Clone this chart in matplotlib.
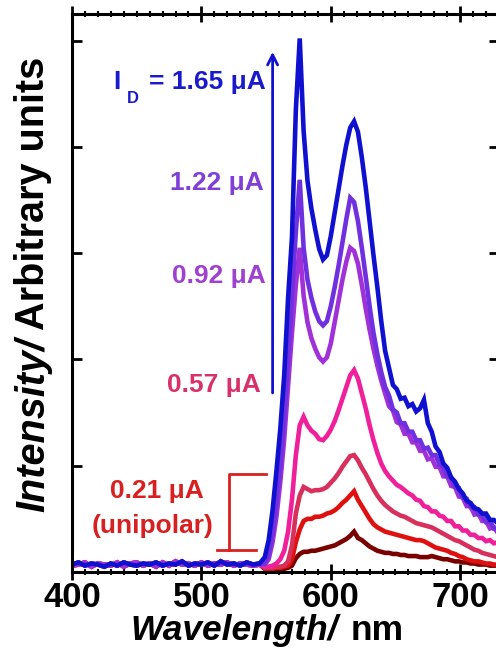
import numpy as np
import matplotlib.pyplot as plt
from matplotlib.ticker import MultipleLocator

plt.rcParams['font.family'] = ['Liberation Sans', 'DejaVu Sans']

W, H = 496, 650

# baseline region, 400-545 nm every 5 nm
wl_base = np.arange(400, 546, 5)
base_noise_a = [0.07, 0.09, 0.06, 0.08, 0.07, 0.05, 0.08, 0.06, 0.09, 0.07,
                0.06, 0.08, 0.07, 0.09, 0.06, 0.08, 0.07, 0.10, 0.06, 0.08,
                0.07, 0.09, 0.06, 0.10, 0.07, 0.08, 0.06, 0.09, 0.07, 0.08]
base_noise_b = [0.06, 0.07, 0.09, 0.05, 0.08, 0.07, 0.06, 0.09, 0.05, 0.08,
                0.09, 0.06, 0.08, 0.05, 0.09, 0.06, 0.10, 0.07, 0.08, 0.06,
                0.09, 0.06, 0.08, 0.07, 0.09, 0.06, 0.08, 0.07, 0.06, 0.07]

# emission region, 549-729 nm every 3 nm
wl_peak = np.arange(549, 730, 3)

blue_165 = [0.14, 0.30, 0.58, 0.95, 1.35, 1.85, 2.58, 3.15, 4.35, 5.02,
            4.15, 3.68, 3.42, 3.22, 3.04, 2.94, 2.98, 3.16, 3.38, 3.60,
            3.82, 4.02, 4.18, 4.24, 4.14, 3.90, 3.62, 3.30, 2.98, 2.68,
            2.36, 2.08, 1.92, 1.76, 1.72, 1.63, 1.64, 1.56, 1.58, 1.51,
            1.54, 1.62, 1.40, 1.32, 1.18, 1.13, 1.02, 0.98, 0.89, 0.85,
            0.78, 0.74, 0.67, 0.65, 0.60, 0.59, 0.55, 0.55, 0.49, 0.49, 0.46]
violet_122 = [0.08, 0.16, 0.36, 0.65, 1.00, 1.45, 2.00, 2.60, 3.20, 3.69,
              3.05, 2.75, 2.58, 2.45, 2.36, 2.32, 2.36, 2.50, 2.68, 2.88,
              3.10, 3.32, 3.52, 3.48, 3.30, 3.05, 2.78, 2.50, 2.25, 2.05,
              1.88, 1.74, 1.66, 1.53, 1.50, 1.40, 1.40, 1.32, 1.32, 1.24,
              1.24, 1.16, 1.17, 1.10, 1.10, 1.01, 0.99, 0.90, 0.89, 0.80,
              0.79, 0.70, 0.69, 0.61, 0.61, 0.54, 0.54, 0.47, 0.48, 0.41, 0.42]
purple_092 = [0.07, 0.12, 0.28, 0.52, 0.85, 1.25, 1.75, 2.25, 2.70, 3.05,
              2.60, 2.35, 2.20, 2.10, 2.02, 1.98, 2.02, 2.15, 2.35, 2.55,
              2.75, 2.92, 3.05, 3.02, 2.90, 2.70, 2.48, 2.28, 2.10, 1.94,
              1.80, 1.68, 1.56, 1.52, 1.41, 1.39, 1.30, 1.30, 1.22, 1.22,
              1.14, 1.14, 1.06, 1.07, 0.99, 0.99, 0.90, 0.90, 0.81, 0.80,
              0.71, 0.70, 0.62, 0.62, 0.54, 0.55, 0.48, 0.48, 0.41, 0.42, 0.37]
pink_057 = [0.05, 0.05, 0.06, 0.08, 0.12, 0.20, 0.38, 0.68, 1.10, 1.38,
            1.46, 1.38, 1.33, 1.30, 1.25, 1.24, 1.28, 1.34, 1.42, 1.52,
            1.63, 1.74, 1.85, 1.90, 1.82, 1.68, 1.54, 1.38, 1.24, 1.12,
            1.02, 0.95, 0.90, 0.86, 0.82, 0.80, 0.77, 0.74, 0.72, 0.68,
            0.67, 0.62, 0.61, 0.57, 0.57, 0.53, 0.52, 0.48, 0.48, 0.43,
            0.43, 0.39, 0.39, 0.35, 0.35, 0.32, 0.32, 0.29, 0.30, 0.27, 0.28]
crimson_mid = [0.04, 0.04, 0.04, 0.05, 0.05, 0.06, 0.10, 0.25, 0.55, 0.72,
               0.80, 0.78, 0.76, 0.77, 0.77, 0.78, 0.80, 0.84, 0.88, 0.93,
               0.99, 1.04, 1.09, 1.10, 1.05, 0.98, 0.92, 0.85, 0.78, 0.72,
               0.67, 0.63, 0.60, 0.57, 0.55, 0.53, 0.52, 0.50, 0.48, 0.46,
               0.45, 0.44, 0.43, 0.42, 0.40, 0.38, 0.36, 0.34, 0.32, 0.30,
               0.29, 0.27, 0.25, 0.23, 0.21, 0.20, 0.18, 0.17, 0.16, 0.15, 0.14]
red_low = [0.03, 0.03, 0.03, 0.04, 0.04, 0.05, 0.06, 0.12, 0.28, 0.40,
           0.48, 0.50, 0.50, 0.52, 0.52, 0.53, 0.55, 0.56, 0.58, 0.61,
           0.65, 0.68, 0.72, 0.76, 0.68, 0.62, 0.56, 0.50, 0.45, 0.42,
           0.40, 0.38, 0.37, 0.36, 0.35, 0.34, 0.33, 0.32, 0.31, 0.30,
           0.30, 0.29, 0.27, 0.25, 0.23, 0.22, 0.21, 0.20, 0.18, 0.17,
           0.15, 0.14, 0.12, 0.11, 0.10, 0.10, 0.09, 0.08, 0.08, 0.07, 0.07]
darkred_021 = [0.03, 0.03, 0.03, 0.03, 0.03, 0.03, 0.04, 0.06, 0.13, 0.17,
               0.19, 0.19, 0.20, 0.20, 0.21, 0.22, 0.23, 0.24, 0.25, 0.27,
               0.29, 0.31, 0.34, 0.38, 0.32, 0.30, 0.27, 0.24, 0.22, 0.20,
               0.19, 0.18, 0.18, 0.17, 0.17, 0.16, 0.16, 0.15, 0.15, 0.15,
               0.14, 0.14, 0.14, 0.15, 0.14, 0.13, 0.12, 0.12, 0.11, 0.10,
               0.10, 0.09, 0.09, 0.08, 0.08, 0.07, 0.07, 0.07, 0.06, 0.06, 0.06]

series = [darkred_021, red_low, crimson_mid, pink_057, purple_092, violet_122, blue_165]
baselines = [base_noise_b, base_noise_a, base_noise_b, base_noise_b,
             base_noise_b, base_noise_a, base_noise_a]
colors = ['#7a0000', '#e01010', '#d8305c', '#f0209a', '#a030d8', '#7030e0', '#1010d0']

labels = ['0.21 \u03bcA', '0.57 \u03bcA', '0.92 \u03bcA', '1.22 \u03bcA', '= 1.65 \u03bcA']
label_colors = ['#d82020', '#d8306a', '#a040d0', '#8040d8', '#1a1acd']

fig = plt.figure(figsize=(W / 100, H / 100), dpi=100)
ax = fig.add_axes([72 / W, 1 - 572 / H, 427 / W, (572 - 14) / H])

wl = np.concatenate([wl_base, wl_peak])
for vals, base, c in zip(series, baselines, colors):
    ax.plot(wl, np.concatenate([base, vals]), color=c, lw=3.3,
            solid_joinstyle='miter')

ax.set_xlim(400, 730)
ax.set_ylim(0, 5.25)
ax.xaxis.set_major_locator(MultipleLocator(100))
ax.xaxis.set_minor_locator(MultipleLocator(10))
ax.yaxis.set_major_locator(MultipleLocator(1))
ax.tick_params(axis='x', which='major', direction='inout', length=12, width=2,
               top=True, bottom=True, labelsize=25, pad=0.5)
ax.tick_params(axis='x', which='minor', direction='inout', length=5, width=1.5,
               top=True, bottom=True)
ax.tick_params(axis='y', which='major', direction='in', length=7, width=2,
               left=True, right=True, labelleft=False)
for lab in ax.get_xticklabels():
    lab.set_fontweight('bold')
for sp in ax.spines.values():
    sp.set_linewidth(2.2)


def px(x):
    return 400 + (x - 72) / 1.29


def py(y):
    return (572 - y) / 106.25


# current labels
ax.text(px(113), py(89), 'I', color=label_colors[4], fontsize=19, weight='bold', va='baseline')
ax.text(px(127), py(103), 'D', color=label_colors[4], fontsize=12, weight='bold', va='baseline')
ax.text(px(265), py(89), labels[4], color=label_colors[4], fontsize=19, weight='bold',
        ha='right', va='baseline')
ax.text(px(263), py(190), labels[3], color=label_colors[3], fontsize=19, weight='bold',
        ha='right', va='baseline')
ax.text(px(265), py(283), labels[2], color=label_colors[2], fontsize=19, weight='bold',
        ha='right', va='baseline')
ax.text(px(260), py(392), labels[1], color=label_colors[1], fontsize=19, weight='bold',
        ha='right', va='baseline')
ax.text(px(203), py(498), labels[0], color=label_colors[0], fontsize=19, weight='bold',
        ha='right', va='baseline')
ax.text(px(152), py(533), '(unipolar)', color=label_colors[0], fontsize=19, weight='bold',
        ha='center', va='baseline')

# arrow
ax.annotate('', xy=(px(272), py(52)), xytext=(px(272), py(393)),
            arrowprops=dict(arrowstyle='->', color='#1010d0', lw=2,
                            shrinkA=0, shrinkB=0, mutation_scale=18))

# bracket for unipolar
ax.plot([px(265), px(229), px(229)], [py(474), py(474), py(550)], color='#d82020', lw=2)
ax.plot([px(217), px(255)], [py(550), py(550)], color='#d82020', lw=2)

# axis titles made of mixed italic / upright parts
fig.canvas.draw()
r = fig.canvas.get_renderer()
t1 = fig.text(33 / W, 1 - 512 / H, 'Intensity/', rotation=90, ha='center', va='bottom',
              fontsize=28.5, weight='bold', style='italic')
bb = t1.get_window_extent(r)
fig.text(33 / W, (bb.y1 + 8) / H, 'Arbitrary units', rotation=90, ha='center', va='bottom',
         fontsize=28.5, weight='bold')

t3 = fig.text(130 / W, 1 - 640 / H, 'Wavelength/', ha='left', va='baseline',
              fontsize=25.5, weight='bold', style='italic')
bb = t3.get_window_extent(r)
fig.text((bb.x1 + 13) / W, 1 - 640 / H, 'nm', ha='left', va='baseline',
         fontsize=25.5, weight='bold')

fig.savefig('out.png', dpi=100)
